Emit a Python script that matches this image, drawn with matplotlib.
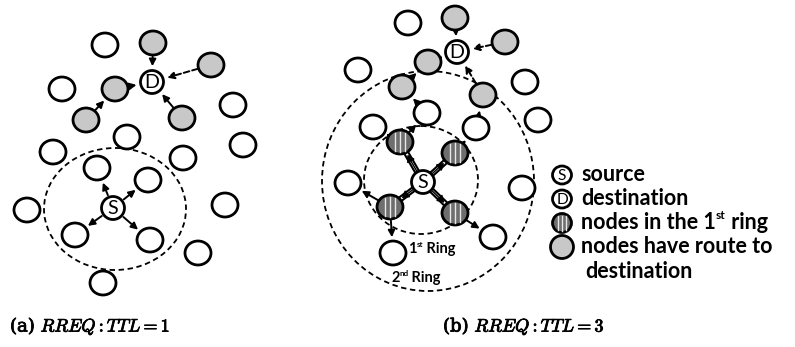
import matplotlib
matplotlib.use("Agg")
import matplotlib.pyplot as plt
from matplotlib.patches import Ellipse, FancyArrowPatch
import matplotlib.patheffects as pe
import numpy as np

plt.rcParams['mathtext.fontset'] = 'cm'

# ---------------- data (pixel positions) ----------------
# panel (a)
a_white = [(105, 45), (62, 89), (233, 105), (127, 137), (53, 152), (243, 145),
           (183, 158), (97, 168), (148, 180), (27, 210), (225, 205), (75, 235),
           (150, 240), (198, 253), (103, 283)]
a_gray = [(153, 43), (211, 65), (115, 89), (86, 120), (182, 118)]
a_src = (113, 208)
a_dst = (152, 82)
a_ring = (115, 209, 142, 122)  # cx, cy, w, h
a_arrows = [  # (from, to, dashed)
    ((113, 208), (97, 168), False), ((113, 208), (148, 180), False),
    ((113, 208), (75, 235), False), ((113, 208), (150, 240), False),
    ((153, 43), (152, 82), False), ((211, 65), (152, 82), True),
    ((115, 89), (152, 82), False), ((182, 118), (152, 82), False),
    ((86, 120), (115, 89), False),
]

# panel (b)
b_white = [(408, 23), (358, 70), (525, 82), (427, 113), (538, 120), (373, 127),
           (476, 128), (348, 183), (522, 188), (493, 237), (393, 253)]
b_gray = [(455, 18), (505, 42), (428, 62), (402, 87), (483, 95)]
b_striped = [(400, 142), (455, 153), (390, 207), (455, 213)]
b_src = (423, 182)
b_dst = (457, 52)
b_rings = [(421, 180, 114, 108), (428, 181, 212, 220)]
b_double = [((423, 182), (400, 142)), ((423, 182), (455, 153)),
            ((423, 182), (390, 207)), ((423, 182), (455, 213))]
b_arrows = [
    ((400, 142), (373, 127), False), ((400, 142), (427, 113), False),
    ((427, 113), (402, 87), False), ((402, 87), (428, 62), False),
    ((428, 62), (457, 52), False), ((455, 18), (457, 52), False),
    ((505, 42), (457, 52), True), ((483, 95), (457, 52), True),
    ((455, 153), (476, 128), False), ((476, 128), (483, 95), False),
    ((390, 207), (348, 183), False), ((390, 207), (393, 253), False),
    ((455, 213), (493, 237), False),
]
ring_labels = [("1", "st", " Ring", 408, 249), ("2", "nd", " Ring", 391, 278)]

legend_items = [("S", "source"), ("D", "destination"),
                ("striped", "nodes in the 1|st| ring"), ("gray", "nodes have route to")]
legend_extra = "destination"
captions = [(r"(a) $RREQ : TTL = 1$", 10, 326), (r"(b) $RREQ : TTL = 3$", 443, 326)]

# ---------------- drawing ----------------
W, H = 795, 347
fig = plt.figure(figsize=(W / 100, H / 100), dpi=100)
ax = fig.add_axes([0, 0, 1, 1])
ax.set_xlim(0, W)
ax.set_ylim(H, 0)
ax.axis('off')

NW, NH = 26, 24
LW = 2.0


def node(xy, kind, w=NW, h=NH, lw=LW):
    if kind == 'white':
        ax.add_patch(Ellipse(xy, w, h, facecolor='white', edgecolor='black', lw=lw, zorder=5))
    elif kind == 'gray':
        ax.add_patch(Ellipse(xy, w, h, facecolor='#c8c8c8', edgecolor='black', lw=lw, zorder=5))
    elif kind == 'striped':
        ax.add_patch(Ellipse(xy, w, h, facecolor='#6e6e6e', edgecolor='black', lw=lw, zorder=5))
        for dx in (-w * 0.19, 0, w * 0.19):
            hh = h / 2 * np.sqrt(max(0, 1 - (2 * dx / w) ** 2)) - 2
            ax.plot([xy[0] + dx, xy[0] + dx], [xy[1] - hh, xy[1] + hh],
                    color='#e8e8e8', lw=1.0, zorder=6)
    else:  # 'S' / 'D'
        ax.add_patch(Ellipse(xy, w, h, facecolor='white', edgecolor='black', lw=lw, zorder=5))
        ax.text(xy[0], xy[1] + 0.5, kind, ha='center', va='center', fontsize=h * 0.62,
                family='Lato', zorder=7)


def endpoints(p, q, rp=12, rq=12):
    p = np.array(p, float)
    q = np.array(q, float)
    d = q - p
    u = d / np.hypot(*d)
    return p + u * rp, q - u * rq


def arrow(p, q, dashed=False):
    s, e = endpoints(p, q, 11, 13)
    ap = FancyArrowPatch(s, e, arrowstyle='-|>,head_length=4,head_width=2',
                         mutation_scale=1.0, color='black', lw=1.4,
                         linestyle=(0, (3, 1.5)) if dashed else '-', zorder=4)
    ax.add_patch(ap)


def double(p, q):
    s, e = endpoints(p, q, 10, 12)
    ax.plot([s[0], e[0]], [s[1], e[1]], color='black', lw=4.5, zorder=3, solid_capstyle='butt')
    ax.plot([s[0], e[0]], [s[1], e[1]], color='white', lw=1.5, zorder=3.5, solid_capstyle='butt')
    ap = FancyArrowPatch(s, e, arrowstyle='-|>,head_length=4,head_width=2.5',
                         mutation_scale=1.0, color='black', lw=1.0, zorder=4)
    ax.add_patch(ap)


# rings
cx, cy, w, h = a_ring
ax.add_patch(Ellipse((cx, cy), w, h, fill=False, edgecolor='black', lw=1.3,
                     linestyle=(0, (3, 2)), zorder=2))
for cx, cy, w, h in b_rings:
    ax.add_patch(Ellipse((cx, cy), w, h, fill=False, edgecolor='black', lw=1.3,
                         linestyle=(0, (3, 2)), zorder=2))

for p, q, d in a_arrows:
    arrow(p, q, d)
for p, q, d in b_arrows:
    arrow(p, q, d)
for p, q in b_double:
    double(p, q)

for xy in a_white + b_white:
    node(xy, 'white')
for xy in a_gray + b_gray:
    node(xy, 'gray')
for xy in b_striped:
    node(xy, 'striped')
node(a_src, 'S', 23, 23)
node(a_dst, 'D', 23, 23)
node(b_src, 'S', 23, 23)
node(b_dst, 'D', 23, 23)

fig.canvas.draw()
renderer = fig.canvas.get_renderer()


def text_run(x, y, parts, fs, weight='normal', family='Lato'):
    """parts: list of (string, is_superscript)"""
    for s, sup in parts:
        t = ax.text(x, y - (fs * 0.4 if sup else 0), s, fontsize=fs * (0.55 if sup else 1),
                    family=family, weight=weight, va='center', ha='left', zorder=8)
        bb = t.get_window_extent(renderer)
        x += bb.width


# ring labels
for a, sup, b, x, y in ring_labels:
    text_run(x, y, [(a, False), (sup, True), (b, False)], 10.5, weight='bold')

# legend
LX, LY0, LDY = 562, 175, 24
LFS = 15.5
for i, (kind, label) in enumerate(legend_items):
    y = LY0 + i * LDY
    if kind == 'gray':
        node((LX, y), kind, 23, 23)
    elif kind == 'striped':
        node((LX, y), kind, 19, 19)
    else:
        node((LX, y), kind, 19, 18)
    segs = label.split('|')
    parts = [(s, j % 2 == 1) for j, s in enumerate(segs)]
    text_run(LX + 19, y - 1, parts, LFS, weight='bold')
text_run(LX + 23, LY0 + 3 * LDY + 24, [(legend_extra, False)], LFS, weight='bold')

for txt, x, y in captions:
    t = ax.text(x, y, txt, fontsize=13, family='DejaVu Serif', ha='left', va='center')
    t.set_path_effects([pe.withStroke(linewidth=0.6, foreground='black')])

fig.savefig('out.png', dpi=100)
